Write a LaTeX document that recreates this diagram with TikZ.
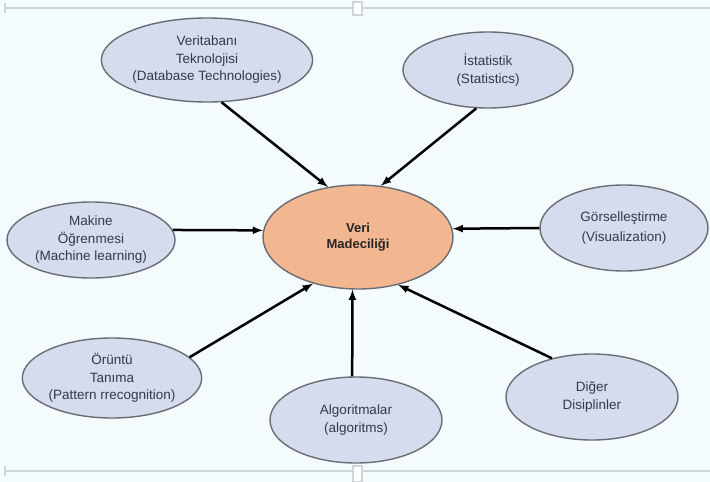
\documentclass[tikz,border=0pt]{standalone}
\usepackage{fontspec}
\setmainfont{Liberation Sans}
\usetikzlibrary{arrows,shapes.geometric}
\definecolor{paper}{RGB}{244,251,253}
\definecolor{bubble}{RGB}{212,220,237}
\definecolor{core}{RGB}{242,182,144}
\definecolor{rim}{RGB}{105,109,118}
\definecolor{ink}{RGB}{52,58,74}
\definecolor{frame}{RGB}{206,214,218}

\begin{document}
\begin{tikzpicture}[x=1pt,y=-1pt,
  topic/.style={ellipse,draw=rim,line width=1.4pt,fill=bubble,inner sep=0pt,
    align=center,text=ink,font=\fontsize{13.5}{17.5}\selectfont},
  link/.style={-latex,line width=2.5pt}]
  \fill[paper] (0,0) rectangle (710,482);
  \useasboundingbox (0,0) rectangle (710,482);
  % selection frame
  \draw[frame,line width=1.5pt] (5,8) -- (710,8);
  \draw[frame,line width=1.5pt] (5,471) -- (710,471);
  \draw[frame,line width=1.2pt] (5,3) -- (5,13);
  \draw[frame,line width=1.2pt] (5,466) -- (5,476);
  \draw[frame,line width=1.2pt,fill=white] (353,2) rectangle (362,15);
  \draw[frame,line width=1.2pt,fill=white] (353,466) rectangle (362,482);

  \node[topic,minimum width=170pt,minimum height=84pt] (vt) at (207,60)
    {Veritaban\i\\Teknolojisi\\(Database Technologies)};
  \node[topic,minimum width=170pt,minimum height=76pt] (ist) at (488,70)
    {\.Istatistik\\(Statistics)};
  \node[topic,minimum width=168pt,minimum height=76pt] (mak) at (91,240)
    {Makine\\Öğrenmesi\\(Machine learning)};
  \node[topic,minimum width=168pt,minimum height=86pt] (gor) at (624,228)
    {Görselleştirme\\[2pt](Visualization)};
  \node[topic,minimum width=168pt,minimum height=80pt] (oru) at (112,378)
    {Örüntü\\Tanıma\\(Pattern rrecognition)};
  \node[topic,minimum width=172pt,minimum height=86pt] (alg) at (356,420)
    {Algoritmalar\\(algoritms)};
  \node[topic,minimum width=172pt,minimum height=86pt] (dig) at (592,397)
    {Diğer\\Disiplinler};
  \node[ellipse,draw=rim,line width=1.4pt,fill=core,inner sep=0pt,
    minimum width=190pt,minimum height=104pt,align=center,
    font=\fontsize{13}{16}\selectfont\bfseries,text=black!85] (veri) at (358,237)
    {Veri\\Madecili\u{g}i};

  \draw[link] (vt.-71) -- (veri.121);
  \draw[link] (ist.-107) -- (veri.66);
  \draw[link] (mak.7) -- (veri.176);
  \draw[link] (gor.180) -- (veri.5);
  \draw[link] (oru.15) -- (veri.-134);
  \draw[link] (alg.95) -- (veri.-96);
  \draw[link] (dig.136) -- (veri.-50);
\end{tikzpicture}
\end{document}
